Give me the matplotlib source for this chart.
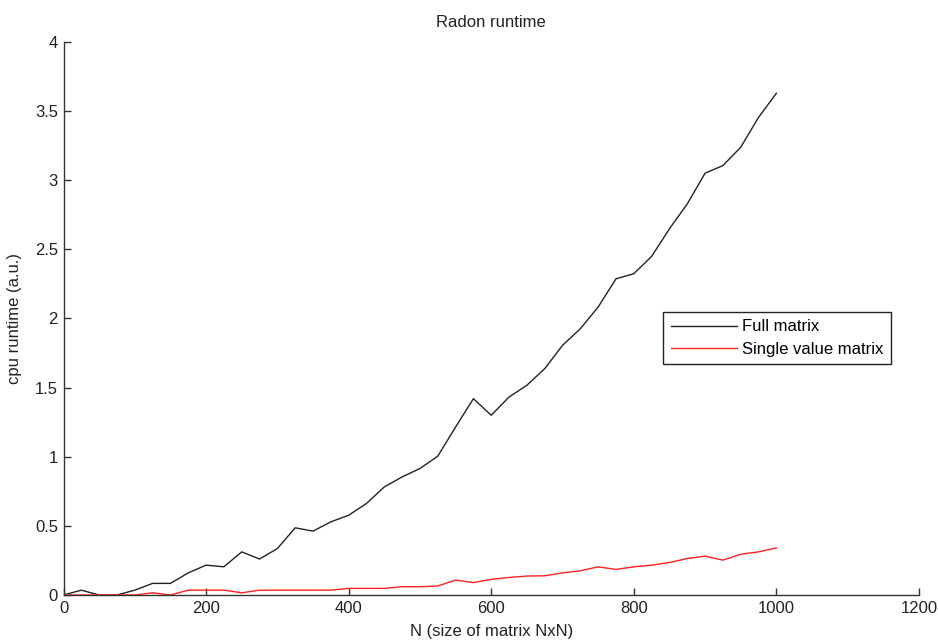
import matplotlib.pyplot as plt
import numpy as np

plt.rcParams['font.family'] = ['Liberation Sans', 'DejaVu Sans']

# matrix size N (step of 25)
n_values = np.arange(0, 1001, 25)

# cpu runtime, full matrix
full_matrix = [0.0, 0.035, 0.0, 0.0, 0.035, 0.084, 0.084, 0.16, 0.216, 0.204,
               0.312, 0.26, 0.336, 0.486, 0.462, 0.529, 0.577, 0.662, 0.782, 0.854,
               0.915, 1.004, 1.215, 1.42, 1.30, 1.432, 1.517, 1.637, 1.806, 1.926,
               2.083, 2.287, 2.324, 2.449, 2.649, 2.829, 3.051, 3.106, 3.239, 3.455,
               3.629]

# cpu runtime, single value matrix
single_value = [0.0, 0.0, 0.0, 0.0, 0.0, 0.016, 0.0, 0.035, 0.035, 0.035,
                0.016, 0.035, 0.035, 0.035, 0.035, 0.035, 0.048, 0.048, 0.048, 0.06,
                0.06, 0.065, 0.108, 0.09, 0.113, 0.127, 0.137, 0.139, 0.16, 0.175,
                0.204, 0.185, 0.204, 0.216, 0.235, 0.264, 0.281, 0.252, 0.295, 0.312,
                0.341]

xticks = [0, 200, 400, 600, 800, 1000, 1200]
yticks = [0, 0.5, 1, 1.5, 2, 2.5, 3, 3.5, 4]

fig = plt.figure(figsize=(9.38, 6.42), dpi=100)
ax = fig.add_axes([0.0677, 0.0732, 0.912, 0.8614])

ax.plot(n_values, full_matrix, color='#222222', linewidth=1.0, label='Full matrix')
ax.plot(n_values, single_value, color='#ff2020', linewidth=1.0, label='Single value matrix')

ax.set_xlim(0, 1200)
ax.set_ylim(0, 4)
ax.set_xticks(xticks)
ax.set_yticks(yticks)
ax.set_xticklabels([str(t) for t in xticks])
ax.set_yticklabels(['0', '0.5', '1', '1.5', '2', '2.5', '3', '3.5', '4'])

ax.spines['top'].set_visible(False)
ax.spines['right'].set_visible(False)
for s in ['left', 'bottom']:
    ax.spines[s].set_color('#333333')
    ax.spines[s].set_linewidth(1.0)
ax.tick_params(direction='in', length=5, width=1, colors='#333333',
               labelsize=12, labelcolor='#222222', pad=4)

ax.set_title('Radon runtime', fontsize=12, color='#222222', pad=11)
ax.set_xlabel('N (size of matrix NxN)', fontsize=12, color='#222222', labelpad=6)
ax.set_ylabel('cpu runtime (a.u.)', fontsize=12, color='#222222', labelpad=9)

leg = ax.legend(loc='upper left', bbox_to_anchor=(0.701, 0.512), borderaxespad=0,
                fontsize=12, fancybox=False, framealpha=1, edgecolor='#222222',
                handlelength=4.0, handletextpad=0.3, borderpad=0.45, labelspacing=0.45)
leg.get_frame().set_linewidth(1.0)

fig.savefig('out.png', dpi=100)
